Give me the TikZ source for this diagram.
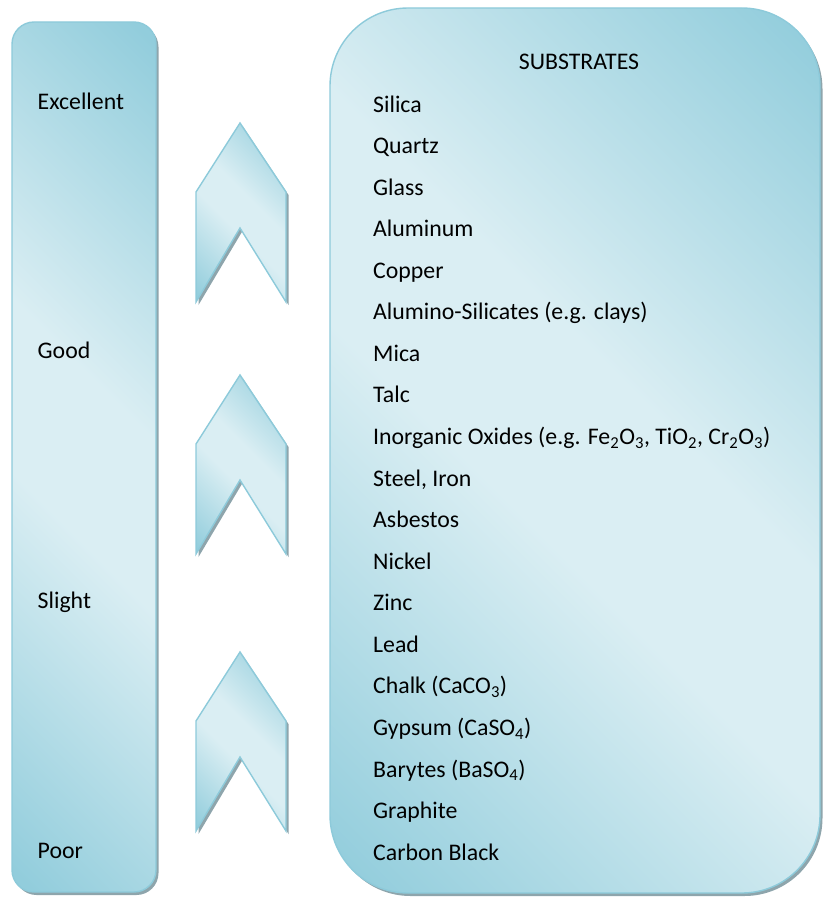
\documentclass[tikz,border=0pt]{standalone}
\usepackage{fontspec}
\setmainfont{Carlito}

\definecolor{aqualight}{HTML}{DAEEF3}
\definecolor{aquadark}{HTML}{92CDDC}
\definecolor{aquaedge}{HTML}{8DCADA}
\definecolor{shadowgrey}{HTML}{8EA5AC}

% light band along one diagonal, darker towards the two other corners
\pgfdeclarehorizontalshading{aquaband}{100bp}{%
  color(0bp)=(aquadark); color(16bp)=(aquadark); color(44bp)=(aqualight);
  color(56bp)=(aqualight); color(84bp)=(aquadark); color(100bp)=(aquadark)}

\tikzset{
  panel/.style={draw=aquaedge, line width=1.4pt, shading=aquaband, shading angle=45},
  dropshade/.style={fill=shadowgrey, shift={(2.5,3)}},
  label/.style={font=\fontsize{23.8}{28}\selectfont, inner sep=0pt, anchor=base west},
  heading/.style={font=\fontsize{23.8}{28}\selectfont, inner sep=0pt, anchor=base},
  chevron/.pic={
    \fill[dropshade] (-44,69) -- (0,0) -- (46,69) -- (46,179) -- (0,105) -- (-44,179) -- cycle;
    \draw[panel, line join=miter] (-44,69) -- (0,0) -- (46,69) -- (46,179) -- (0,105) -- (-44,179) -- cycle;
  }
}

\begin{document}
\begin{tikzpicture}[x=1pt, y=-1pt]
\useasboundingbox (0,0) rectangle (823,899);

% rating scale column
\fill[dropshade, rounded corners=22pt] (12,22) rectangle (156,892);
\draw[panel, rounded corners=22pt] (12,22) rectangle (156,892);

% substrates panel
\fill[dropshade, rounded corners=78pt] (330,8) rectangle (820,893);
\draw[panel, rounded corners=78pt] (330,8) rectangle (820,893);

% upward chevrons
\pic at (240,123) {chevron};
\pic at (240,375) {chevron};
\pic at (240,652) {chevron};

% scale labels
\node[label] (excellent) at (37.5,109) {Excellent};
\node[label] (good)      at (37.5,358) {Good};
\node[label] (slight)    at (37.5,608) {Slight};
\node[label] (poor)      at (37.5,858) {Poor};

% substrate list
\node[heading] (title) at (579,70) {SUBSTRATES};
\node[label] (s1)  at (373,112.0) {Silica};
\node[label] (s2)  at (373,153.6) {Quartz};
\node[label] (s3)  at (373,195.1) {Glass};
\node[label] (s4)  at (373,236.7) {Aluminum};
\node[label] (s5)  at (373,278.2) {Copper};
\node[label] (s6)  at (373,319.8) {Alumino-Silicates (e.g. clays)};
\node[label] (s7)  at (373,361.4) {Mica};
\node[label] (s8)  at (373,402.9) {Talc};
\node[label] (s9)  at (373,444.5) {Inorganic Oxides (e.g. Fe\textsubscript{2}O\textsubscript{3}, TiO\textsubscript{2}, Cr\textsubscript{2}O\textsubscript{3})};
\node[label] (s10) at (373,486.0) {Steel, Iron};
\node[label] (s11) at (373,527.6) {Asbestos};
\node[label] (s12) at (373,569.2) {Nickel};
\node[label] (s13) at (373,610.7) {Zinc};
\node[label] (s14) at (373,652.3) {Lead};
\node[label] (s15) at (373,693.8) {Chalk (CaCO\textsubscript{3})};
\node[label] (s16) at (373,735.4) {Gypsum (CaSO\textsubscript{4})};
\node[label] (s17) at (373,777.0) {Barytes (BaSO\textsubscript{4})};
\node[label] (s18) at (373,818.5) {Graphite};
\node[label] (s19) at (373,860.1) {Carbon Black};
\end{tikzpicture}
\end{document}
